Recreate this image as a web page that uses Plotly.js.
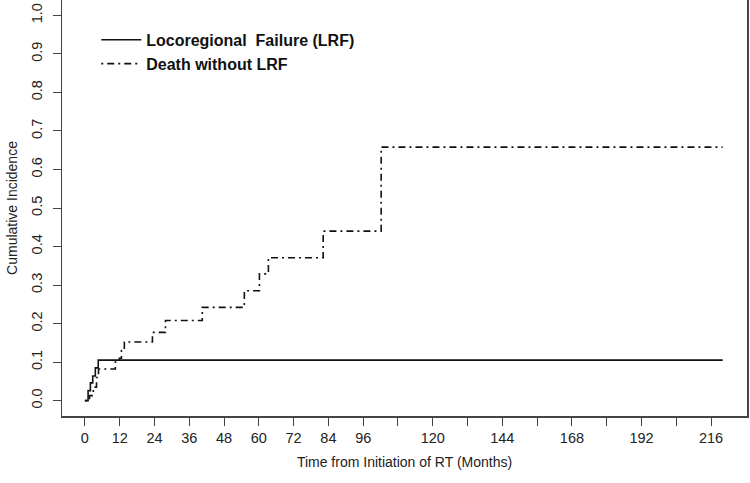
<!DOCTYPE html>
<html>
<head>
<meta charset="utf-8">
<script src="https://cdn.plot.ly/plotly-3.0.1.min.js"></script>
<style>
  body { margin: 0; background: #fff; }
  #graf { width: 750px; height: 483px; }
</style>
</head>
<body>
<div id="graf"></div>
<script>
// cumulative incidence
let casLRF = [0, 1.1, 1.9, 2.7, 3.6, 4.6, 220];
let ciLRF = [0, 0.026, 0.046, 0.064, 0.085, 0.105, 0.105];

let casSmrt = [0, 1.6, 2.9, 4.0, 4.7, 10.5, 11.9, 12.6, 13.6, 23.3, 27.8, 40.5, 55, 60.2, 63.3, 82.2, 102.2, 220];
let ciSmrt = [0, 0.013, 0.035, 0.06, 0.082, 0.10, 0.11, 0.13, 0.152, 0.177, 0.208, 0.242, 0.285, 0.329, 0.371, 0.44, 0.658, 0.658];

let imena = ["Locoregional  Failure (LRF)", "Death without LRF"];

let xTicks = [0, 12, 24, 36, 48, 60, 72, 84, 96, 108, 120, 132, 144, 156, 168, 180, 192, 204, 216];
let xOznake = ["0", "12", "24", "36", "48", "60", "72", "84", "96", "", "120", "", "144", "", "168", "", "192", "", "216"];
let yTicks = [0, 0.1, 0.2, 0.3, 0.4, 0.5, 0.6, 0.7, 0.8, 0.9, 1.0];
let yOznake = ["0.0", "0.1", "0.2", "0.3", "0.4", "0.5", "0.6", "0.7", "0.8", "0.9", "1.0"];

const pisava = "Liberation Sans, Arial, sans-serif";

var data = [{
    x: casLRF,
    y: ciLRF,
    name: imena[0],
    type: "scatter",
    mode: "lines",
    line: { shape: "hv", color: "#111", width: 1.6 }
}, {
    x: casSmrt,
    y: ciSmrt,
    name: imena[1],
    type: "scatter",
    mode: "lines",
    line: { shape: "hv", color: "#111", width: 1.6, dash: "2px,4px,7px,4px" }
}];

var os = {
    showgrid: false,
    zeroline: false,
    showline: true,
    mirror: true,
    linecolor: "#444",
    linewidth: 1.5,
    ticks: "outside",
    ticklen: 8,
    tickwidth: 1,
    tickcolor: "#444",
    tickfont: { family: pisava, size: 14.5, color: "#222" }
};

var layout = {
    width: 750,
    height: 483,
    margin: { l: 62, r: 3, t: 0, b: 67 },
    paper_bgcolor: "#fff",
    plot_bgcolor: "#fff",
    showlegend: true,
    legend: {
        x: 0.05, y: 0.945, xanchor: "left", yanchor: "top",
        bgcolor: "rgba(0,0,0,0)",
        itemwidth: 40,
        font: { family: pisava, size: 16, color: "#111", weight: "bold" }
    },
    xaxis: Object.assign({}, os, {
        range: [-7.9, 228.4],
        tickmode: "array",
        tickvals: xTicks,
        ticktext: xOznake,
        title: { text: "Time from Initiation of RT (Months)", font: { family: pisava, size: 14, color: "#222" }, standoff: 12 }
    }),
    yaxis: Object.assign({}, os, {
        range: [-0.04, 1.04],
        tickmode: "array",
        tickvals: yTicks,
        ticktext: yOznake,
        tickangle: -90,
        ticklabelstandoff: 5,
        title: { text: "Cumulative Incidence", font: { family: pisava, size: 14, color: "#222" }, standoff: 8 }
    })
};

Plotly.newPlot("graf", data, layout, { displayModeBar: false, staticPlot: true });
</script>
</body>
</html>
